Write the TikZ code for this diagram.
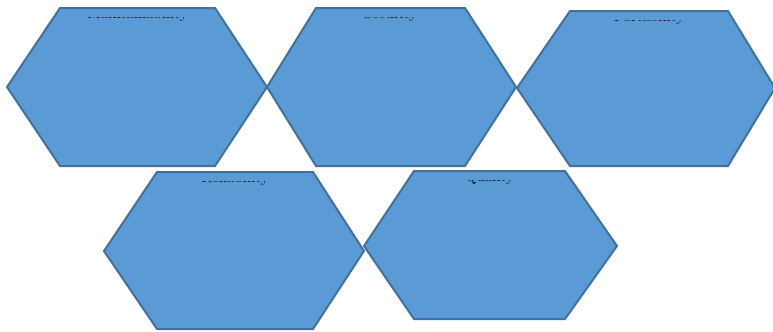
\documentclass[tikz,border=0pt]{standalone}
\usepackage{tikz}
\usetikzlibrary{positioning,calc}
\definecolor{cellfill}{RGB}{91,155,213}
\definecolor{celledge}{RGB}{65,113,156}
% hexagon cell: name, left tip x, flat left x, flat right x, right tip x, top y, mid y, bottom y, label
\newcommand{\hexcell}[9]{%
  \draw[cell] (#2,#7) -- (#3,#6) -- (#4,#6) -- (#5,#7) -- (#4,#8) -- (#3,#8) -- cycle;
  \begin{scope}
    \clip (#3,#6+9.2) rectangle (#4,#8);
    \node[celltext] (#1) at ({(#3+#4)/2},#6+10.5) {#9};
  \end{scope}}

\begin{document}
\begin{tikzpicture}[
  x=0.03cm,y=-0.03cm,
  cell/.style={fill=cellfill,draw=celledge,line width=0.06cm,line join=miter},
  celltext/.style={anchor=base,inner sep=0pt,text=black,font=\fontsize{13}{15}\selectfont}
]
\useasboundingbox (0,0) rectangle (773,331);
\hexcell{maint}{7}{60}{215}{267}{8}{87}{166}{Maintainability}
\hexcell{secur}{267}{316}{465}{516}{8}{87}{166}{Security}
\hexcell{port}{517}{570}{728}{775}{11}{88}{166}{Portability}
\hexcell{reli}{104}{157}{313}{364}{172}{251}{329}{Reliability}
\hexcell{qual}{364}{414}{565}{617}{171}{246}{319}{Quality}
\end{tikzpicture}
\end{document}
